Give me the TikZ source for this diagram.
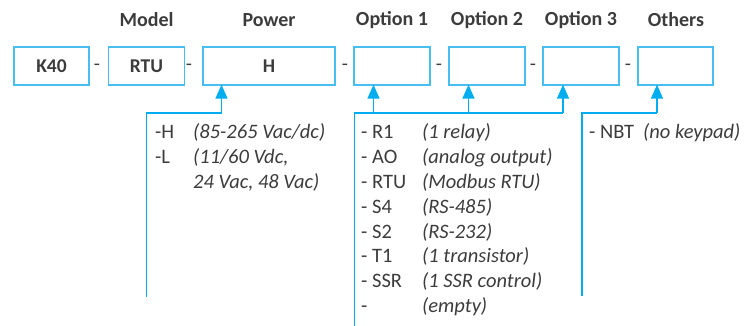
\documentclass[tikz,border=0pt]{standalone}
\usepackage{fontspec}
\setmainfont{Carlito}
\usetikzlibrary{arrows.meta, positioning}
\definecolor{codeblue}{RGB}{0,174,239}
\definecolor{boxblue}{RGB}{70,190,240}
\definecolor{txtgray}{RGB}{60,60,60}

\tikzset{
  codebox/.style={draw=boxblue, line width=1.3pt, minimum width=#1, minimum height=38pt,
    inner sep=0pt, text=txtgray, font=\fontsize{19.5}{22}\selectfont\bfseries},
  head/.style={text=txtgray, font=\fontsize{20}{22}\selectfont\bfseries, inner sep=0pt},
  sep/.style={text=txtgray, font=\fontsize{20}{22}\selectfont, inner sep=0pt},
  item/.style={anchor=base west, text=txtgray, font=\fontsize{20.5}{22}\selectfont, inner sep=0pt},
  note/.style={item, font=\fontsize{20.5}{22}\selectfont\itshape},
  feed/.style={draw=codeblue, line width=1.4pt},
  pick/.style={feed, -{Triangle[width=12pt,length=14pt]}, shorten >=-1pt},
}

\begin{document}
\begin{tikzpicture}[x=1pt,y=-1pt]
\useasboundingbox (0,0) rectangle (747,326);

% code boxes
\node[codebox=75pt]  (k40)    at (51.5,66)  {K40};
\node[codebox=76pt]  (model)  at (146.5,66) {RTU};
\node[codebox=132pt] (power)  at (269,66)   {H};
\node[codebox=76pt]  (opt1)   at (392,66)   {};
\node[codebox=76pt]  (opt2)   at (487,66)   {};
\node[codebox=76pt]  (opt3)   at (581,66)   {};
\node[codebox=75pt]  (others) at (675.5,66) {};

% separators
\node[sep] (d1) at (97,67)  {-};
\node[sep] (d2) at (189,67) {-};
\node[sep] (d3) at (345,67) {-};
\node[sep] (d4) at (439,67) {-};
\node[sep] (d5) at (533,67) {-};
\node[sep] (d6) at (628,67) {-};

% headings
\node[head] (hmodel)  at (146.5,20) {Model};
\node[head] (hpower)  at (269,20)   {Power};
\node[head] (hopt1)   at (392,20)   {Option 1};
\node[head] (hopt2)   at (487,20)   {Option 2};
\node[head] (hopt3)   at (581,20)   {Option 3};
\node[head] (hothers) at (676,20)   {Others};

% power choices
\coordinate (pw)  at (221.5,113);
\coordinate (pwl) at (146.5,297);
\draw[feed] (pwl) |- (pw);
\draw[pick] (pw) -- (pw |- power.south);

\node[item] (ph)  at (155,139) {-H};
\node[note] (phn) at (193,139) {(85-265 Vac/dc)};
\node[item] (pl)  at (155,164) {-L};
\node[note] (pln) at (193,164) {(11/60 Vdc,};
\node[note] (pl2) at (193,188) {24 Vac, 48 Vac)};

% option choices
\coordinate (o1) at (373.5,113);
\coordinate (o2) at (468.5,113);
\coordinate (o3) at (563,113);
\coordinate (ol) at (354.5,326);
\draw[feed] (ol) |- (o3);
\foreach \o/\b in {o1/opt1, o2/opt2, o3/opt3}
  \draw[pick] (\o) -- (\o |- \b.south);

\foreach \code/\desc [count=\i] in {R1/(1 relay), AO/(analog output), RTU/(Modbus RTU),
    S4/(RS-485), S2/(RS-232), T1/(1 transistor), SSR/(1 SSR control), /(empty)} {
  \node[item] (oc\i) at (361,114+24.8*\i) {- \code};
  \node[note] (od\i) at (422,114+24.8*\i) {\desc};
}

% other choices
\coordinate (ot)  at (657,113);
\coordinate (otl) at (582,296);
\draw[feed] (otl) |- (ot);
\draw[pick] (ot) -- (ot |- others.south);

\node[item] (onbt) at (589,139) {- NBT};
\node[note] (onbn) at (643,139) {(no keypad)};
\end{tikzpicture}
\end{document}
